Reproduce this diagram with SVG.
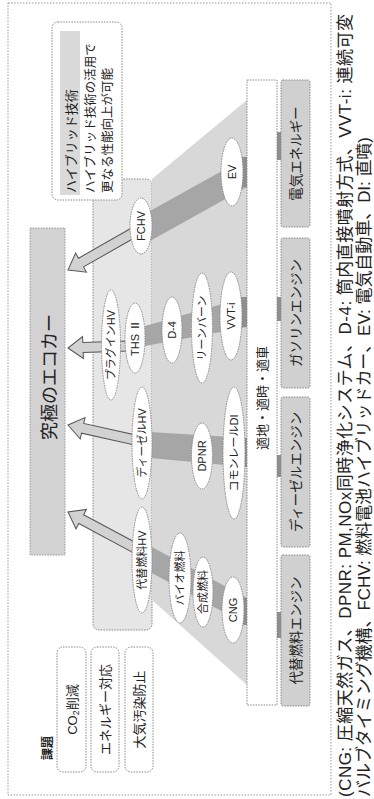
<svg xmlns="http://www.w3.org/2000/svg" width="374" height="799" viewBox="0 0 374 799">
<style>
.t{font-family:"Liberation Sans","Noto Sans CJK JP",sans-serif;fill:#222}
.frame{fill:none;stroke:#999;stroke-width:1;stroke-dasharray:1.5 1.5}
.box{fill:#fff;stroke:#888;stroke-width:1;stroke-dasharray:1.5 1.2}
.gray{fill:#d0d0d0;stroke:#888;stroke-width:1;stroke-dasharray:1.5 1.2}
.ell{fill:#fff;stroke:#888;stroke-width:1;stroke-dasharray:1.5 1}
.band{fill:#a6a6a6}
.conn{fill:#8f8f8f}
.arr{fill:#d2d2d2;stroke:#555;stroke-width:1}
.lbl{font-size:11px}
.eng{font-size:13.5px}
</style>

<rect class="frame" x="8" y="3" width="323" height="792"/>

<g id="hv-area">
  <rect x="93" y="179" width="59" height="451" rx="6" fill="#e6e6e6" stroke="#888" stroke-dasharray="1.5 1.2"/>
  <polygon points="247,100 152,179 152,600 247,685" fill="#d8d8d8"/>
</g>

<g id="connectors">
  <polygon class="band" points="247,157 247,187 150,241 150,211"/>
  <polygon class="band" points="247,297 247,327 145,346 145,326"/>
  <polygon class="band" points="247,438 247,467 150,458 150,432"/>
  <polygon class="band" points="247,598 247,625 150,572 150,546"/>
  <rect class="conn" x="240" y="157" width="7" height="30"/>
  <rect class="conn" x="240" y="297" width="7" height="30"/>
  <rect class="conn" x="240" y="438" width="7" height="29"/>
  <rect class="conn" x="240" y="598" width="7" height="27"/>
  <rect class="conn" x="277" y="132" width="4" height="28"/>
  <rect class="conn" x="277" y="297" width="4" height="24"/>
  <rect class="conn" x="277" y="455" width="4" height="22"/>
  <rect class="conn" x="277" y="612" width="4" height="26"/>
  <path class="arr" transform="translate(68,270) rotate(150.3)" d="M0,0 L-15,-11 L-15,-5 L-80,-5 L-80,5 L-15,5 L-15,11 Z"/>
  <path class="arr" transform="translate(68,348) rotate(178)" d="M0,0 L-15,-11 L-15,-5 L-60,-5 L-60,5 L-15,5 L-15,11 Z"/>
  <path class="arr" transform="translate(68,425) rotate(-167.4)" d="M0,0 L-15,-11 L-15,-5 L-68,-5 L-68,5 L-15,5 L-15,11 Z"/>
  <path class="arr" transform="translate(68,512) rotate(-151.8)" d="M0,0 L-15,-11 L-15,-5 L-76,-5 L-76,5 L-15,5 L-15,11 Z"/>
</g>

<g id="n-ev"><ellipse class="ell" cx="232" cy="172" rx="11" ry="34"/><text class="t lbl" transform="translate(236,172) rotate(-90)" text-anchor="middle">EV</text></g>
<g id="n-fchv"><ellipse class="ell" cx="141" cy="226" rx="11" ry="28"/><text class="t lbl" transform="translate(145,226) rotate(-90)" text-anchor="middle">FCHV</text></g>
<g id="n-plugin"><ellipse class="ell" cx="111" cy="345" rx="9.5" ry="55"/><text class="t lbl" transform="translate(115,345) rotate(-90)" text-anchor="middle">プラグインHV</text></g>
<g id="n-ths"><ellipse class="ell" cx="135" cy="338" rx="10" ry="35"/><text class="t lbl" transform="translate(139,338) rotate(-90)" text-anchor="middle">THS Ⅱ</text></g>
<g id="n-d4"><ellipse class="ell" cx="172" cy="330" rx="10" ry="33"/><text class="t lbl" transform="translate(176,330) rotate(-90)" text-anchor="middle">D-4</text></g>
<g id="n-lean"><ellipse class="ell" cx="202" cy="328" rx="10.5" ry="55"/><text class="t lbl" transform="translate(206,328) rotate(-90)" text-anchor="middle">リーンバーン</text></g>
<g id="n-vvti"><ellipse class="ell" cx="231" cy="316" rx="11" ry="44"/><text class="t lbl" transform="translate(235,316) rotate(-90)" text-anchor="middle">VVT-i</text></g>
<g id="n-dieselhv"><ellipse class="ell" cx="142" cy="443" rx="10" ry="56"/><text class="t lbl" transform="translate(146,443) rotate(-90)" text-anchor="middle">ディーゼルHV</text></g>
<g id="n-dpnr"><ellipse class="ell" cx="202" cy="456" rx="10.5" ry="33"/><text class="t lbl" transform="translate(206,456) rotate(-90)" text-anchor="middle">DPNR</text></g>
<g id="n-common"><ellipse class="ell" cx="234" cy="453" rx="11" ry="66"/><text class="t lbl" transform="translate(238,453) rotate(-90)" text-anchor="middle">コモンレールDI</text></g>
<g id="n-althv"><ellipse class="ell" cx="142" cy="560" rx="10" ry="53"/><text class="t lbl" transform="translate(146,560) rotate(-90)" text-anchor="middle">代替燃料HV</text></g>
<g id="n-bio"><ellipse class="ell" cx="180" cy="578" rx="11" ry="45"/><text class="t lbl" transform="translate(184,578) rotate(-90)" text-anchor="middle">バイオ燃料</text></g>
<g id="n-syn"><ellipse class="ell" cx="203" cy="592" rx="10" ry="35"/><text class="t lbl" transform="translate(207,592) rotate(-90)" text-anchor="middle">合成燃料</text></g>
<g id="n-cng"><ellipse class="ell" cx="233" cy="610" rx="11" ry="33"/><text class="t lbl" transform="translate(237,610) rotate(-90)" text-anchor="middle">CNG</text></g>

<g id="n-tekichi">
  <rect class="box" x="247" y="80" width="30" height="625"/>
  <text class="t" font-size="13" transform="translate(267,398) rotate(-90)" text-anchor="middle">適地・適時・適車</text>
</g>

<g id="n-elec"><rect class="gray" x="281" y="80" width="29" height="147" rx="2"/><text class="t eng" transform="translate(300.5,153.5) rotate(-90)" text-anchor="middle">電気エネルギー</text></g>
<g id="n-gas"><rect class="gray" x="281" y="238" width="29" height="150" rx="2"/><text class="t eng" transform="translate(300.5,313) rotate(-90)" text-anchor="middle">ガソリンエンジン</text></g>
<g id="n-diesel"><rect class="gray" x="281" y="397" width="29" height="150" rx="2"/><text class="t eng" transform="translate(300.5,472) rotate(-90)" text-anchor="middle">ディーゼルエンジン</text></g>
<g id="n-alt"><rect class="gray" x="281" y="555" width="29" height="151" rx="2"/><text class="t eng" transform="translate(300.5,630.5) rotate(-90)" text-anchor="middle">代替燃料エンジン</text></g>

<g id="n-hybrid-note">
  <rect class="box" x="52" y="22" width="70" height="178" rx="6"/>
  <rect x="60" y="31" width="20" height="164" fill="#dadada"/>
  <text class="t" font-size="13" transform="translate(76,193) rotate(-90)">ハイブリッド技術</text>
  <text class="t" font-size="12.5" transform="translate(95,193) rotate(-90)">ハイブリッド技術の活用で</text>
  <text class="t" font-size="12.5" transform="translate(112,193) rotate(-90)">更なる性能向上が可能</text>
</g>

<g id="n-ecocar">
  <rect x="30" y="228" width="35" height="327" fill="#d2d2d2" stroke="#999" stroke-dasharray="1.5 1.2"/>
  <text class="t" font-size="18" transform="translate(55.5,377) rotate(-90)" text-anchor="middle">究極のエコカー</text>
</g>

<g id="n-issues">
  <text class="t" font-size="12" font-weight="bold" transform="translate(52,760) rotate(-90)">課題</text>
  <rect class="box" x="57" y="647" width="29" height="125" rx="6"/>
  <text class="t" font-size="13" transform="translate(76.5,709.5) rotate(-90)" text-anchor="middle">CO<tspan font-size="9" dy="2">2</tspan><tspan dy="-2">削減</tspan></text>
  <rect class="box" x="91" y="647" width="28" height="125" rx="6"/>
  <text class="t" font-size="13" transform="translate(109.5,709.5) rotate(-90)" text-anchor="middle">エネルギー対応</text>
  <rect class="box" x="125" y="647" width="28" height="125" rx="6"/>
  <text class="t" font-size="13" transform="translate(143.5,709.5) rotate(-90)" text-anchor="middle">大気汚染防止</text>
</g>

<g id="caption">
  <text class="t" font-size="17" transform="translate(351,797) rotate(-90)" textLength="783" lengthAdjust="spacing">(CNG: 圧縮天然ガス、DPNR: PM,NOx同時浄化システム、D-4: 筒内直接噴射方式、VVT-i: 連続可変</text>
  <text class="t" font-size="17" transform="translate(370,797) rotate(-90)" textLength="660" lengthAdjust="spacing">バルブタイミング機構、FCHV: 燃料電池ハイブリッドカー、EV: 電気自動車、DI: 直噴)</text>
</g>
</svg>
